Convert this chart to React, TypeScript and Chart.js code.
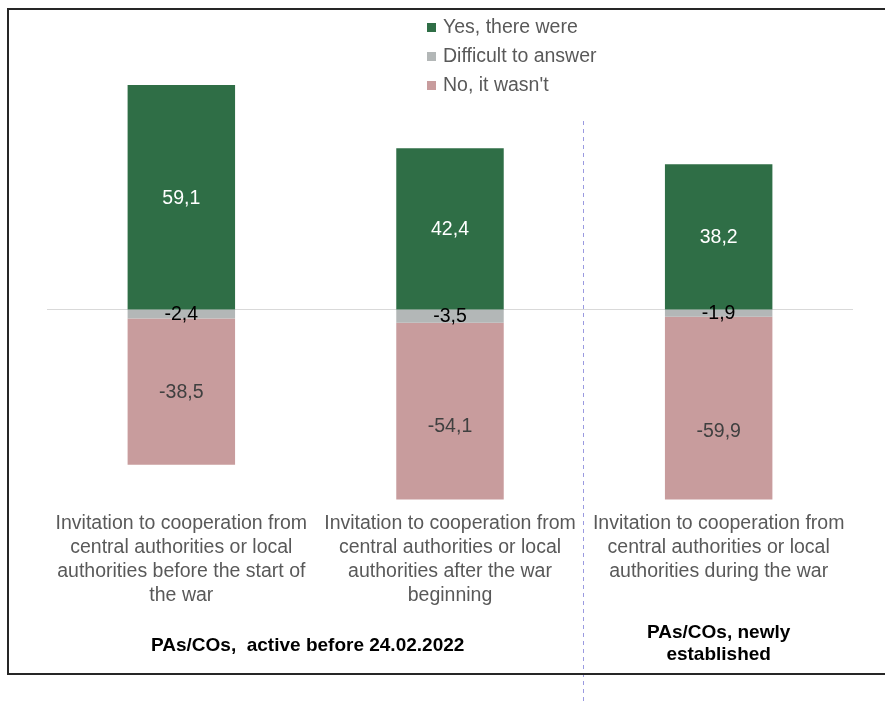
import React, { useEffect, useRef } from "react";
import { Chart, registerables } from "chart.js";

Chart.register(...registerables);

const categories: string[][] = [
  ["Invitation to cooperation from", "central authorities or local", "authorities before the start of", "the war"],
  ["Invitation to cooperation from", "central authorities or local", "authorities after the war", "beginning"],
  ["Invitation to cooperation from", "central authorities or local", "authorities during the war"],
];
const yesValues = [59.1, 42.4, 38.2];
const difficultValues = [-2.4, -3.5, -1.9];
const noValues = [-38.5, -54.1, -59.9];
const seriesNames = ["Yes, there were", "Difficult to answer", "No, it wasn't"];
const groupLabels: { lines: string[]; from: number; to: number }[] = [
  { lines: ["PAs/COs,  active before 24.02.2022"], from: 0, to: 1 },
  { lines: ["PAs/COs, newly", "established"], from: 2, to: 2 },
];
const yMin = -50;
const yMax = 70;

const COLORS = ["#2F6E46", "#B3B7B7", "#C89C9D"];
const LABEL_COLORS = ["#FFFFFF", "#000000", "#404040"];
const FONT = '"Liberation Sans", Arial, sans-serif';
const FS = 19.5;

const fmt = (v: number) => v.toFixed(1).replace(".", ",");

const overlay = {
  id: "overlay",
  beforeDatasetsDraw(chart: any) {
    const { ctx, chartArea, scales } = chart;
    const y0 = scales.y.getPixelForValue(0);
    ctx.save();
    ctx.strokeStyle = "#D9D9D9";
    ctx.lineWidth = 1;
    ctx.beginPath();
    ctx.moveTo(chartArea.left, Math.round(y0) + 0.5);
    ctx.lineTo(chartArea.right, Math.round(y0) + 0.5);
    ctx.stroke();
    ctx.restore();
  },
  afterDatasetsDraw(chart: any) {
    const { ctx } = chart;
    ctx.save();
    ctx.font = `${FS}px ${FONT}`;
    ctx.textAlign = "center";
    ctx.textBaseline = "middle";
    chart.data.datasets.forEach((ds: any, i: number) => {
      const meta = chart.getDatasetMeta(i);
      meta.data.forEach((el: any, j: number) => {
        const p = el.getProps(["x", "y", "base"], true);
        const mid = (p.y + p.base) / 2;
        ctx.fillStyle = LABEL_COLORS[i];
        ctx.fillText(fmt(ds.data[j]), p.x, mid + 1);
      });
    });
    ctx.restore();
  },
  afterDraw(chart: any) {
    const { ctx, scales } = chart;
    const xs = scales.x;
    ctx.save();
    // category labels
    ctx.font = `${FS}px ${FONT}`;
    ctx.fillStyle = "#595959";
    ctx.textAlign = "center";
    ctx.textBaseline = "middle";
    categories.forEach((lines, j) => {
      const x = xs.getPixelForValue(j);
      lines.forEach((ln, k) => ctx.fillText(ln, x, 524 + k * 24));
    });
    // group labels
    ctx.font = `bold 19px ${FONT}`;
    ctx.fillStyle = "#000000";
    groupLabels.forEach((g) => {
      const single = g.lines.length === 1;
      const x = (xs.getPixelForValue(g.from) + xs.getPixelForValue(g.to)) / 2 - (single ? 8 : 0);
      const startY = single ? 646 : 633;
      g.lines.forEach((ln, k) => ctx.fillText(ln, x, startY + k * 22));
    });
    // legend
    ctx.font = `${FS}px ${FONT}`;
    ctx.textAlign = "left";
    seriesNames.forEach((name, i) => {
      const y = 27 + i * 29;
      ctx.fillStyle = COLORS[i];
      ctx.fillRect(427, y - 4, 9, 9);
      ctx.fillStyle = "#595959";
      ctx.fillText(name, 443, y + 1);
    });
    // dashed separator
    const sepX = Math.round((xs.getPixelForValue(1) + xs.getPixelForValue(2)) / 2) - 0.5;
    ctx.strokeStyle = "#9A9AE0";
    ctx.lineWidth = 1;
    ctx.setLineDash([4, 4]);
    ctx.beginPath();
    ctx.moveTo(sepX, 121);
    ctx.lineTo(sepX, 701);
    ctx.stroke();
    ctx.setLineDash([]);
    // frame
    ctx.strokeStyle = "#262626";
    ctx.lineWidth = 2;
    ctx.strokeRect(8, 9, 890, 665);
    ctx.restore();
  },
};

export default function App() {
  const ref = useRef<HTMLCanvasElement | null>(null);
  useEffect(() => {
    if (!ref.current) return;
    const chart = new Chart(ref.current, {
      type: "bar",
      data: {
        labels: categories.map((c) => c.join(" ")),
        datasets: [
          { label: seriesNames[0], data: yesValues, backgroundColor: COLORS[0] },
          { label: seriesNames[1], data: difficultValues, backgroundColor: COLORS[1] },
          { label: seriesNames[2], data: noValues, backgroundColor: COLORS[2] },
        ],
      },
      options: {
        responsive: false,
        animation: false,
        devicePixelRatio: 1,
        layout: { padding: { left: 47, right: 32, top: 43.5, bottom: 201.6 } },
        datasets: { bar: { barPercentage: 0.4, categoryPercentage: 1 } },
        scales: {
          x: { stacked: true, display: false },
          y: { stacked: true, display: false, min: yMin, max: yMax },
        },
        plugins: { legend: { display: false }, tooltip: { enabled: false } },
      },
      plugins: [overlay],
    });
    return () => chart.destroy();
  }, []);
  return (
    <div style={{ position: "absolute", left: 0, top: 0, width: 885, height: 701, background: "#fff" }}>
      <canvas ref={ref} width={885} height={701} style={{ display: "block" }} />
    </div>
  );
}
